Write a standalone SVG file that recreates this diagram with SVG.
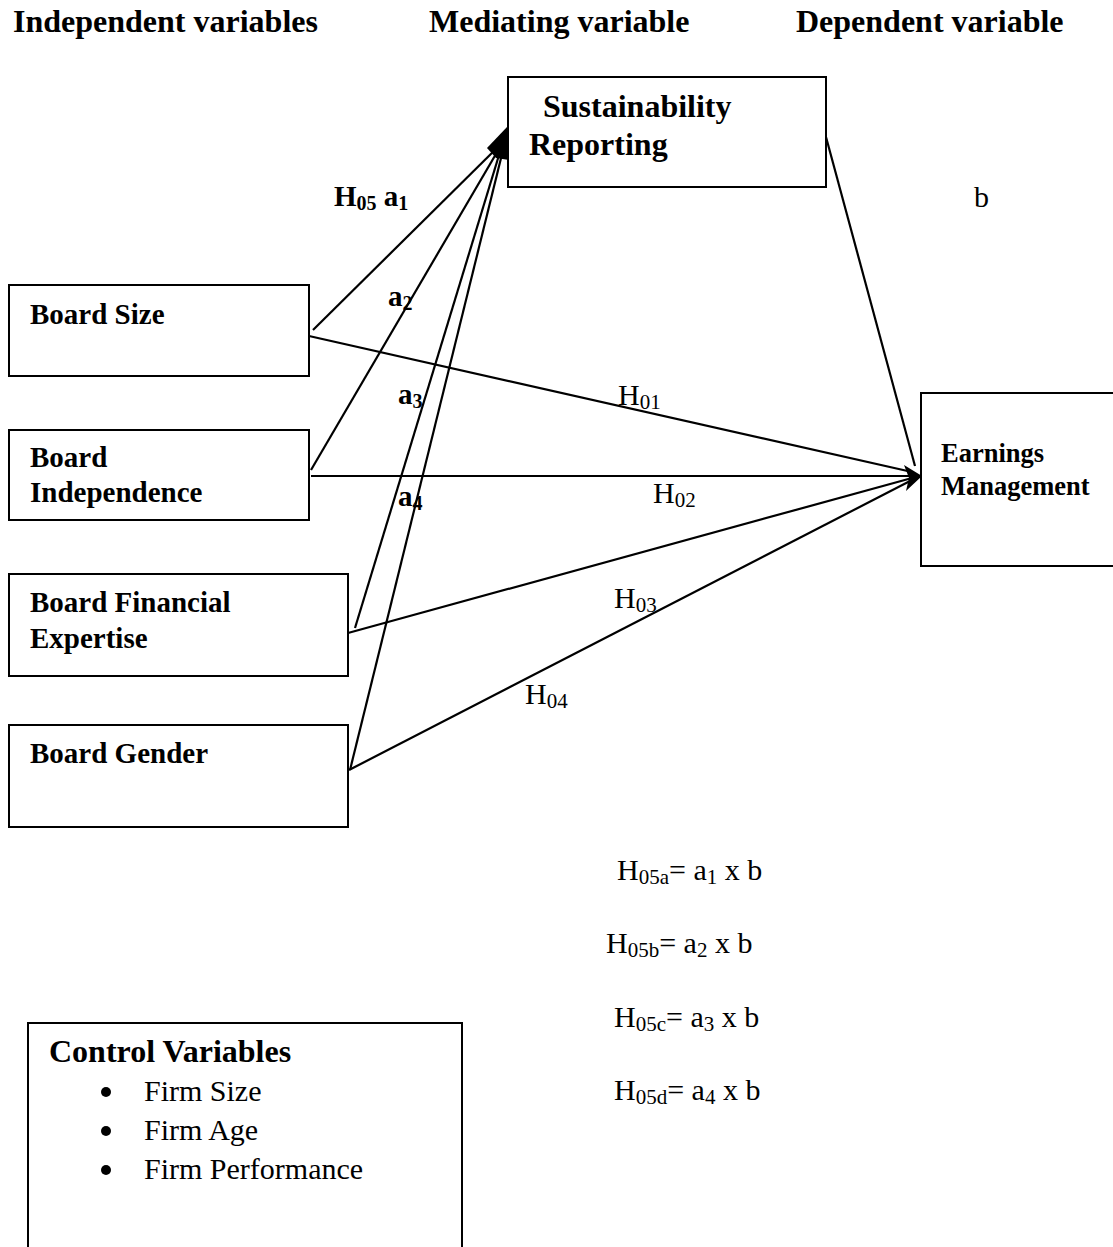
<svg xmlns="http://www.w3.org/2000/svg" width="1113" height="1247" viewBox="0 0 1113 1247">
<style>
text{font-family:"Liberation Serif","Times New Roman",serif;fill:#000}
.b{font-weight:bold}
.hd{font-size:32px;font-weight:bold}
.n{font-size:29px;font-weight:bold}
.lb{font-size:29px;font-weight:bold}
.r{font-size:30px}
.box{fill:#fff;stroke:#000;stroke-width:2}
.ln{stroke:#000;stroke-width:2.2;fill:none}
</style>
<rect width="1113" height="1247" fill="#fff"/>
<g id="headers">
<text class="hd" x="13" y="32">Independent variables</text>
<text class="hd" x="429" y="32">Mediating variable</text>
<text class="hd" x="796" y="32">Dependent variable</text>
</g>
<g id="connectors">
<line class="ln" x1="313" y1="330" x2="503" y2="142"/>
<line class="ln" x1="309" y1="336" x2="912" y2="472"/>
<line class="ln" x1="311" y1="470" x2="503" y2="142"/>
<line class="ln" x1="311" y1="476" x2="912" y2="476"/>
<line class="ln" x1="355" y1="628" x2="503" y2="142"/>
<line class="ln" x1="348" y1="633" x2="912" y2="478"/>
<line class="ln" x1="350" y1="770" x2="505" y2="142"/>
<line class="ln" x1="349" y1="770" x2="912" y2="480"/>
<line class="ln" x1="826" y1="137" x2="915" y2="466"/>
<path d="M487,148 L507,127 L509,160 L496,158 Z" fill="#000"/>
<path d="M904,465 L922,476 L906,491 L909,478 Z" fill="#000"/>
</g>
<g id="sr">
<rect class="box" x="508" y="77" width="318" height="110"/>
<text class="b" style="font-size:32px" x="543" y="117">Sustainability</text>
<text class="b" style="font-size:32px" x="529" y="155">Reporting</text>
</g>
<g id="bs">
<rect class="box" x="9" y="285" width="300" height="91"/>
<text class="n" x="30" y="324">Board Size</text>
</g>
<g id="bi">
<rect class="box" x="9" y="430" width="300" height="90"/>
<text class="n" x="30" y="467">Board</text>
<text class="n" x="30" y="502">Independence</text>
</g>
<g id="bfe">
<rect class="box" x="9" y="574" width="339" height="102"/>
<text class="n" x="30" y="612">Board Financial</text>
<text class="n" x="30" y="648">Expertise</text>
</g>
<g id="bg">
<rect class="box" x="9" y="725" width="339" height="102"/>
<text class="n" x="30" y="763">Board Gender</text>
</g>
<g id="em">
<rect class="box" x="921" y="393" width="200" height="173"/>
<text class="b" style="font-size:26.5px" x="941" y="462">Earnings</text>
<text class="b" style="font-size:26.5px" x="941" y="495">Management</text>
</g>
<g id="labels">
<text class="lb" x="334" y="206">H<tspan font-size="20" dy="4">05</tspan><tspan dy="-4"> a</tspan><tspan font-size="20" dy="4">1</tspan></text>
<text class="lb" x="388" y="306">a<tspan font-size="20" dy="4">2</tspan></text>
<text class="lb" x="398" y="404">a<tspan font-size="20" dy="4">3</tspan></text>
<text class="lb" x="398" y="506">a<tspan font-size="20" dy="4">4</tspan></text>
<text class="r" x="974" y="207">b</text>
<text class="r" x="618" y="405">H<tspan font-size="21" dy="4">01</tspan></text>
<text class="r" x="653" y="503">H<tspan font-size="21" dy="4">02</tspan></text>
<text class="r" x="614" y="608">H<tspan font-size="21" dy="4">03</tspan></text>
<text class="r" x="525" y="704">H<tspan font-size="21" dy="4">04</tspan></text>
</g>
<g id="formulas">
<text class="r" x="617" y="880">H<tspan font-size="21" dy="4">05a</tspan><tspan dy="-4">= a</tspan><tspan font-size="21" dy="4">1</tspan><tspan dy="-4"> x b</tspan></text>
<text class="r" x="606" y="953">H<tspan font-size="21" dy="4">05b</tspan><tspan dy="-4">= a</tspan><tspan font-size="21" dy="4">2</tspan><tspan dy="-4"> x b</tspan></text>
<text class="r" x="614" y="1027">H<tspan font-size="21" dy="4">05c</tspan><tspan dy="-4">= a</tspan><tspan font-size="21" dy="4">3</tspan><tspan dy="-4"> x b</tspan></text>
<text class="r" x="614" y="1100">H<tspan font-size="21" dy="4">05d</tspan><tspan dy="-4">= a</tspan><tspan font-size="21" dy="4">4</tspan><tspan dy="-4"> x b</tspan></text>
</g>
<g id="control">
<rect class="box" x="28" y="1023" width="434" height="240"/>
<text class="b" style="font-size:32px" x="49" y="1062">Control Variables</text>
<circle cx="106" cy="1092" r="5" fill="#000"/>
<circle cx="106" cy="1131" r="5" fill="#000"/>
<circle cx="106" cy="1170" r="5" fill="#000"/>
<text class="r" x="144" y="1101">Firm Size</text>
<text class="r" x="144" y="1140">Firm Age</text>
<text class="r" x="144" y="1179">Firm Performance</text>
</g>
</svg>
